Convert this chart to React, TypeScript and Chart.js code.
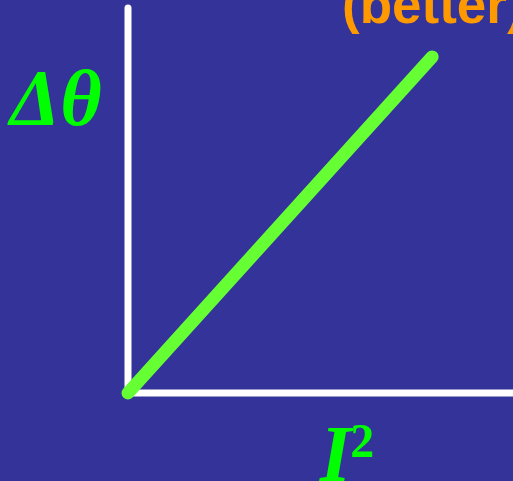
import React, { useEffect, useRef } from "react";
import { Chart, registerables } from "chart.js";

Chart.register(...registerables);

// Data
const curveX = [0, 7.9];
const curveY = [0, 8.73];
const xAxisX = [0, 10];
const xAxisY = [0, 0];
const yAxisX = [0, 0];
const yAxisY = [0, 10];
const yLabel = "Δθ";
const xLabel = "I";
const xLabelSup = "2";
const noteLabel = "(better)";

const BG = "#333399";
const GREEN_LINE = "#66FF33";
const GREEN_TEXT = "#00FF00";
const ORANGE = "#FF9900";

const toPts = (xs: number[], ys: number[]) => xs.map((x, i) => ({ x, y: ys[i] }));

const bgPlugin = {
  id: "bg",
  beforeDraw(chart: any) {
    const { ctx, width, height } = chart;
    ctx.save();
    ctx.fillStyle = BG;
    ctx.fillRect(0, 0, width, height);
    ctx.restore();
  },
};

const labelsPlugin = {
  id: "labels",
  afterDraw(chart: any) {
    const { ctx } = chart;
    ctx.save();
    ctx.textAlign = "left";
    ctx.textBaseline = "alphabetic";
    // y label
    ctx.fillStyle = GREEN_TEXT;
    ctx.font = "italic bold 80px 'Liberation Serif'";
    ctx.fillText(yLabel, 10, 125);
    // x label
    ctx.font = "italic bold 80px 'Liberation Serif'";
    const ix = 320;
    ctx.fillText(xLabel, ix, 481);
    const w = ctx.measureText(xLabel).width;
    ctx.font = "bold 48px 'Liberation Serif'";
    ctx.fillText(xLabelSup, ix + w - 1, 457);
    // note
    ctx.fillStyle = ORANGE;
    ctx.font = "bold 53px 'Liberation Sans'";
    ctx.fillText(noteLabel, 342, 23);
    ctx.restore();
  },
};

export default function App() {
  const ref = useRef<HTMLCanvasElement | null>(null);
  useEffect(() => {
    if (!ref.current) return;
    const chart = new Chart(ref.current, {
      type: "scatter",
      data: {
        datasets: [
          {
            data: toPts(curveX, curveY),
            showLine: true,
            borderColor: GREEN_LINE,
            borderWidth: 13,
            borderCapStyle: "round",
            pointRadius: 0,
            clip: false,
            order: 0,
          } as any,
          {
            data: toPts(xAxisX, xAxisY),
            showLine: true,
            borderColor: "#FFFFFF",
            borderWidth: 7,
            borderCapStyle: "butt",
            pointRadius: 0,
            clip: false,
            order: 1,
          } as any,
          {
            data: toPts(yAxisX, yAxisY),
            showLine: true,
            borderColor: "#FFFFFF",
            borderWidth: 7,
            borderCapStyle: "round",
            pointRadius: 0,
            clip: false,
            order: 2,
          } as any,
        ],
      },
      options: {
        animation: false,
        responsive: false,
        maintainAspectRatio: false,
        layout: { padding: { left: 128, right: 0, top: 8, bottom: 88 } },
        scales: {
          x: { type: "linear", min: 0, max: 10, display: false },
          y: { type: "linear", min: 0, max: 10, display: false },
        },
        plugins: { legend: { display: false }, tooltip: { enabled: false } },
        events: [],
      },
      plugins: [bgPlugin, labelsPlugin],
    });
    return () => chart.destroy();
  }, []);
  return (
    <div style={{ position: "fixed", left: 0, top: 0, width: 513, height: 481, background: BG }}>
      <canvas ref={ref} width={513} height={481} style={{ display: "block", width: 513, height: 481 }} />
    </div>
  );
}
